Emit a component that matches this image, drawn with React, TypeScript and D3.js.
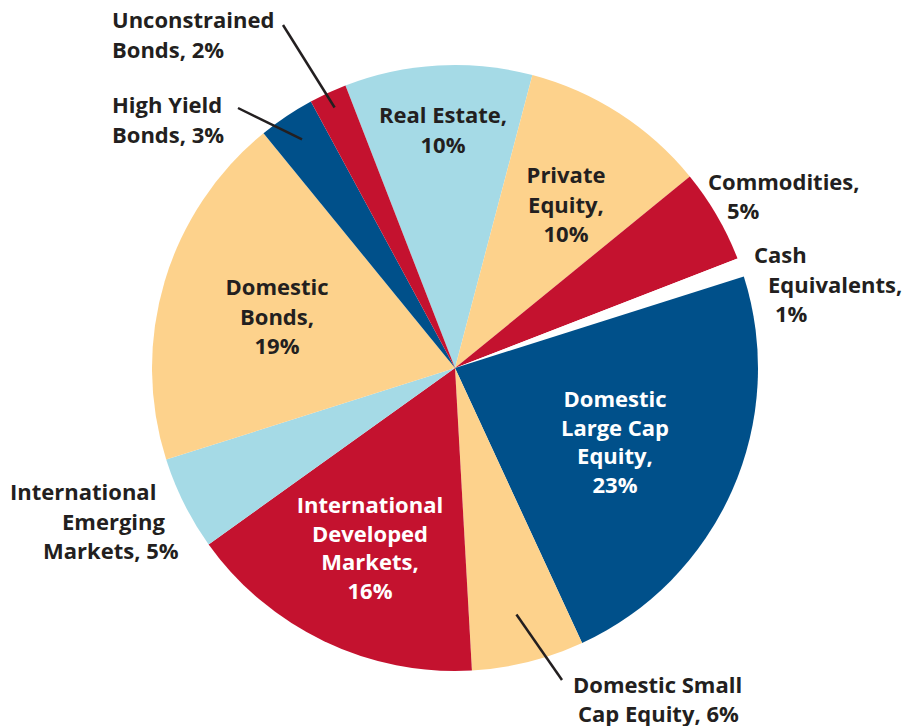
import React from "react"
import * as d3 from "d3"

// Asset allocation, clockwise from Real Estate
const categories = [
	"Real Estate",
	"Private Equity",
	"Commodities",
	"Cash Equivalents",
	"Domestic Large Cap Equity",
	"Domestic Small Cap Equity",
	"International Developed Markets",
	"International Emerging Markets",
	"Domestic Bonds",
	"High Yield Bonds",
	"Unconstrained Bonds",
]
const values = [10, 10, 5, 1, 23, 6, 16, 5, 19, 3, 2]
const colors = [
	"#a5dae6",
	"#fdd28c",
	"#c4122f",
	"#ffffff",
	"#00508a",
	"#fdd28c",
	"#c4122f",
	"#a5dae6",
	"#fdd28c",
	"#00508a",
	"#c4122f",
]
// how each label wraps
const labelLines = [
	["Real Estate,", "10%"],
	["Private", "Equity,", "10%"],
	["Commodities,", "5%"],
	["Cash", "Equivalents,", "1%"],
	["Domestic", "Large Cap", "Equity,", "23%"],
	["Domestic Small", "Cap Equity, 6%"],
	["International", "Developed", "Markets,", "16%"],
	["International", "Emerging", "Markets, 5%"],
	["Domestic", "Bonds,", "19%"],
	["High Yield", "Bonds, 3%"],
	["Unconstrained", "Bonds, 2%"],
]

const width = 907
const height = 726
const cx = 455
const cy = 368
const radius = 303
const startDeg = -21.2

// label placement: x per line (or one x), baseline of first line, line gap, anchor
const labelLayout = [
	{ x: [443], y: 123, gap: 29.5, anchor: "middle", fill: "#231f20" },
	{ x: [566], y: 183, gap: 29.5, anchor: "middle", fill: "#231f20" },
	{ x: [708, 727], y: 190, gap: 28.5, anchor: "start", fill: "#231f20" },
	{ x: [754, 768, 775], y: 263, gap: 29.5, anchor: "start", fill: "#231f20" },
	{ x: [615], y: 407, gap: 28.5, anchor: "middle", fill: "#ffffff" },
	{ x: [573, 578], y: 693, gap: 28.5, anchor: "start", fill: "#231f20" },
	{ x: [370], y: 513, gap: 28.5, anchor: "middle", fill: "#ffffff" },
	{ x: [10, 62, 43], y: 500, gap: 29.5, anchor: "start", fill: "#231f20" },
	{ x: [277], y: 295, gap: 29.5, anchor: "middle", fill: "#231f20" },
	{ x: [112], y: 113, gap: 29.5, anchor: "start", fill: "#231f20" },
	{ x: [112], y: 28, gap: 29.5, anchor: "start", fill: "#231f20" },
]

// leader lines: slice index, radius on slice, outer end point
const leaders = [
	{ i: 10, r: 287, x: 283, y: 25 },
	{ i: 9, r: 275, x: 238, y: 108 },
	{ i: 5, r: 254, x: 562, y: 680 },
]

const App = () => {
	const start = (startDeg * Math.PI) / 180
	const pie = d3
		.pie<number>()
		.sort(null)
		.value(d => d)
		.startAngle(start)
		.endAngle(start + 2 * Math.PI)
	const arcs = pie(values)
	const arc = d3.arc<d3.PieArcDatum<number>>().innerRadius(0).outerRadius(radius)

	return (
		<svg
			width={width}
			height={height}
			style={{ position: "absolute", left: 0, top: 0, background: "#fff" }}
			fontFamily="'Open Sans', 'Noto Sans', sans-serif"
			fontWeight={700}
			fontSize={22}
		>
			<g transform={`translate(${cx},${cy})`}>
				{arcs.map((a, i) => (
					<path key={categories[i]} d={arc(a) || ""} fill={colors[i]} />
				))}
				{leaders.map(l => {
					const a = arcs[l.i]
					const mid = (a.startAngle + a.endAngle) / 2
					return (
						<line
							key={l.i}
							x1={Math.sin(mid) * l.r}
							y1={-Math.cos(mid) * l.r}
							x2={l.x - cx}
							y2={l.y - cy}
							stroke="#231f20"
							strokeWidth={2.5}
						/>
					)
				})}
			</g>
			{labelLines.map((lines, i) => {
				const lay = labelLayout[i]
				return (
					<text key={categories[i]} textAnchor={lay.anchor} fill={lay.fill}>
						{lines.map((t, j) => (
							<tspan key={j} x={lay.x[Math.min(j, lay.x.length - 1)]} y={lay.y + j * lay.gap}>
								{t}
							</tspan>
						))}
					</text>
				)
			})}
		</svg>
	)
}

export default App
